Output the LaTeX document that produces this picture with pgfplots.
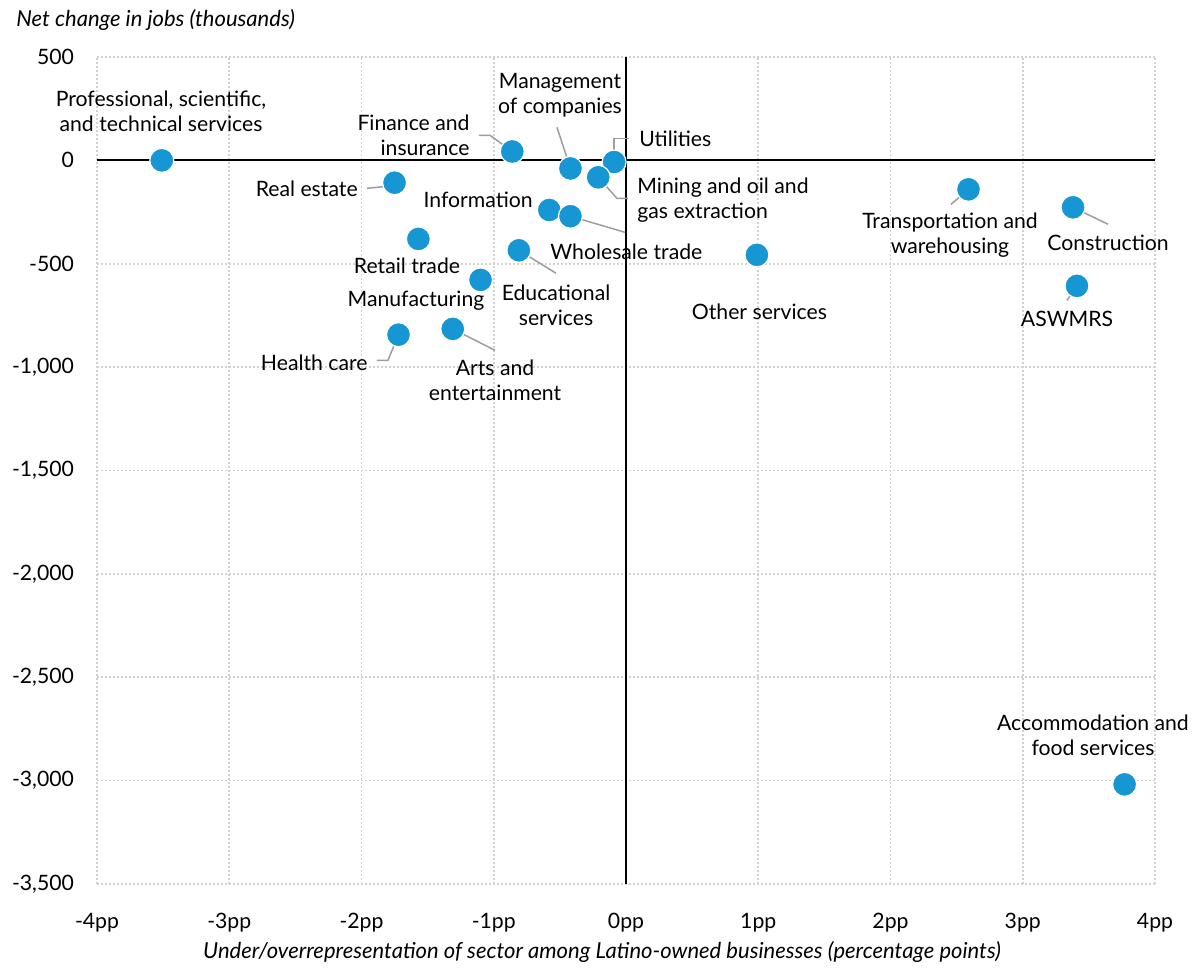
\documentclass[border=0pt]{standalone}
\usepackage{pgfplots}
\pgfplotsset{compat=1.18}
\usepackage{pgfplotstable}
\usepackage{fontspec}
\setmainfont{Lato}
\definecolor{urbanblue}{HTML}{1696D2}
\definecolor{leader}{HTML}{9D9D9D}
\definecolor{gridgray}{HTML}{D2D2D2}

\pgfplotstableread{
x y
-3.51 0
-1.75 -108
-0.86 43
-0.42 -39
-0.09 -8
-0.21 -82
-0.58 -240
-0.42 -270
-0.81 -435
-1.57 -380
-1.10 -578
-1.72 -843
-1.31 -815
0.99 -457
2.59 -140
3.38 -227
3.41 -607
3.77 -3018
}\sectors

\begin{document}
\begin{tikzpicture}[lbl/.style={font=\fontsize{10.6}{12.5}\selectfont, inner sep=0pt, align=center},
  ld/.style={draw=leader, line width=0.75pt}]
\begin{axis}[
  scale only axis,
  width=529pt, height=413.5pt,
  xmin=-4, xmax=4, ymin=-3500, ymax=500,
  xtick={-4,-3,...,4},
  xticklabels={-4pp,-3pp,-2pp,-1pp,0pp,1pp,2pp,3pp,4pp},
  ytick={-3500,-3000,...,500},
  yticklabels={{-3,500},{-3,000},{-2,500},{-2,000},{-1,500},{-1,000},-500,0,500},
  major tick length=0pt,
  tick label style={font=\fontsize{10.6}{12}\selectfont},
  xticklabel style={yshift=-11pt},
  yticklabel style={xshift=-8pt},
  axis line style={draw=none},
  grid=major,
  major grid style={draw=gridgray, line width=0.8pt, dash pattern=on 0.8pt off 1.2pt},
  clip=false,
]
\draw[black, line width=1pt] (axis cs:-4,0) -- (axis cs:4,0);
\draw[black, line width=1pt] (axis cs:0,500) -- (axis cs:0,-3500);

\addplot[only marks, mark=*, mark size=6pt,
  mark options={fill=urbanblue, draw=white, line width=0.6pt}] table[x=x, y=y] {\sectors};

% leader lines
\draw[ld] (axis cs:-1.112,121) -- (axis cs:-1.028,121) -- (axis cs:-0.86,43);
\draw[ld] (axis cs:-0.522,160) -- (axis cs:-0.42,-39);
\draw[ld] (axis cs:-0.09,-8) -- (axis cs:-0.09,106) -- (axis cs:0.023,106);
\draw[ld] (axis cs:-0.21,-82) -- (axis cs:-0.068,-184) -- (axis cs:0.015,-184);
\draw[ld] (axis cs:-0.42,-270) -- (axis cs:-0.008,-348);
\draw[ld] (axis cs:-0.81,-435) -- (axis cs:-0.529,-546);
\draw[ld] (axis cs:-1.958,-135) -- (axis cs:-1.815,-126) -- (axis cs:-1.75,-108);
\draw[ld] (axis cs:-1.883,-967) -- (axis cs:-1.80,-967) -- (axis cs:-1.72,-843);
\draw[ld] (axis cs:-1.31,-815) -- (axis cs:-0.99,-919);
\draw[ld] (axis cs:0.99,-457) -- (axis cs:1.005,-517);
\draw[ld] (axis cs:2.59,-140) -- (axis cs:2.457,-213);
\draw[ld] (axis cs:3.38,-227) -- (axis cs:3.645,-309);
\draw[ld] (axis cs:3.41,-607) -- (axis cs:3.335,-677);

% labels
\node[lbl] at (axis cs:-3.516,237) {Professional, scientific,\\and technical services};
\node[lbl, anchor=east, align=right] at (axis cs:-1.18,121) {Finance and\\insurance};
\node[lbl] at (axis cs:-0.499,314) {Management\\of companies};
\node[lbl, anchor=west] at (axis cs:0.098,102) {Utilities};
\node[lbl, anchor=west, align=left] at (axis cs:0.083,-193) {Mining and oil and\\gas extraction};
\node[lbl, anchor=east] at (axis cs:-0.703,-189) {Information};
\node[lbl, anchor=west] at (axis cs:-0.575,-440) {Wholesale trade};
\node[lbl] at (axis cs:-0.529,-701) {Educational\\services};
\node[lbl, anchor=east] at (axis cs:-2.026,-135) {Real estate};
\node[lbl] at (axis cs:-1.656,-508) {Retail trade};
\node[lbl] at (axis cs:-1.588,-677) {Manufacturing};
\node[lbl, anchor=east] at (axis cs:-1.951,-977) {Health care};
\node[lbl] at (axis cs:-0.99,-1064) {Arts and\\entertainment};
\node[lbl] at (axis cs:1.009,-730) {Other services};
\node[lbl] at (axis cs:2.45,-363) {Transportation and\\warehousing};
\node[lbl] at (axis cs:3.645,-401) {Construction};
\node[lbl] at (axis cs:3.335,-769) {ASWMRS};
\node[lbl] at (axis cs:3.531,-2780) {Accommodation and\\food services};
\end{axis}
\node[anchor=west, inner sep=0pt, font=\fontsize{11}{12}\selectfont\itshape]
  at ([xshift=-40.5pt, yshift=18.5pt]current axis.north west) {Net change in jobs (thousands)};
\node[inner sep=0pt, font=\fontsize{11}{12}\selectfont\itshape]
  at ([xshift=252.5pt, yshift=-34pt]current axis.south west) {Under/overrepresentation of sector among Latino-owned businesses (percentage points)};
\pgfresetboundingbox
\path[use as bounding box] ([xshift=-48.5pt, yshift=-41.5pt]current axis.south west) rectangle ([xshift=20.5pt, yshift=28.5pt]current axis.north east);
\end{tikzpicture}
\end{document}
